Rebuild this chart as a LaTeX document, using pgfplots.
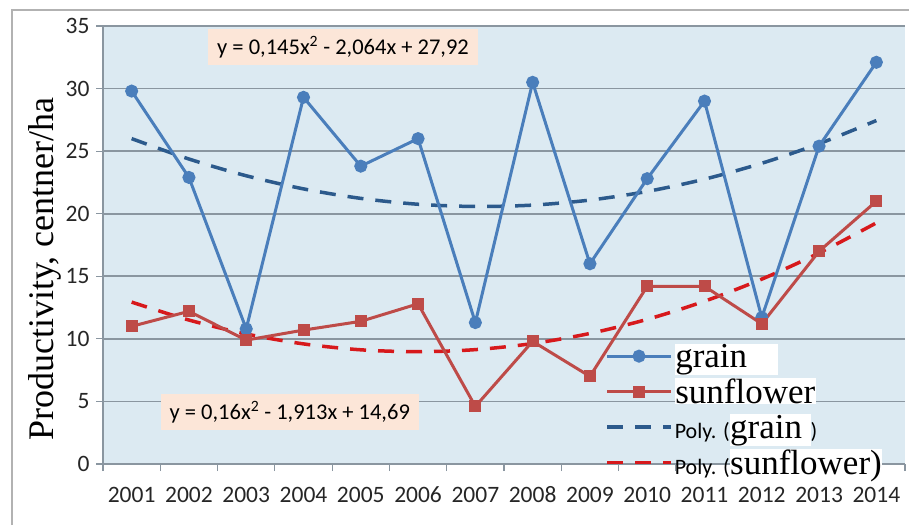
\documentclass[border=0pt]{standalone}
\usepackage{fontspec}
\setmainfont{Liberation Serif}
\newfontfamily\carlito{Carlito}
\usepackage{pgfplots}
\pgfplotsset{compat=1.18}
\definecolor{bgblue}{HTML}{DCEAF2}
\definecolor{gridgray}{HTML}{8A96A0}
\definecolor{grainc}{HTML}{4A7EBB}
\definecolor{sunc}{HTML}{BE4B48}
\definecolor{graintr}{HTML}{2C5A8C}
\definecolor{suntr}{HTML}{D7191C}
\definecolor{eqbg}{HTML}{FCE6D8}
\setlength{\fboxsep}{0.5pt}
\newcommand{\polyf}{\carlito\fontsize{22}{22}\selectfont}
\begin{document}
\begin{tikzpicture}
\useasboundingbox (-103pt,-61pt) rectangle (806pt,464pt);
\draw[gray!60, line width=1.2pt] (-91pt,-61pt) -- (-91pt,454pt) -- (806pt,454pt);
\begin{axis}[
  width=802pt, height=438pt, scale only axis,
  xmin=0.5, xmax=14.5, ymin=0, ymax=35,
  axis background/.style={fill=bgblue},
  axis x line*=bottom, axis y line*=left,
  axis line style={gridgray, line width=1.6pt, -},
  ymajorgrids, major grid style={gridgray, line width=1.6pt},
  ytick={0,5,...,35},
  xtick={1,...,14},
  xticklabels={2001,2002,2003,2004,2005,2006,2007,2008,2009,2010,2011,2012,2013,2014},
  minor xtick={0.5,1.5,...,14.5},
  tick align=outside,
  major x tick style={draw=none},
  minor x tick style={gridgray, line width=1.2pt},
  minor tick length=7pt,
  major tick length=7pt,
  ytick style={gridgray, line width=1.2pt},
  /pgf/number format/assume math mode=true,
  ticklabel style={font=\carlito\fontsize{23.5}{23.5}\selectfont, text=black!85},
  xticklabel style={text height=16pt, text depth=0pt, yshift=-12pt},
  yticklabel style={xshift=-3pt},
  ylabel={Productivity, centner/ha},
  ylabel style={font=\fontsize{36}{36}\selectfont, at={(ticklabel cs:0.445)}, yshift=-2pt},
  legend cell align=left,
  legend style={at={(0.626,0.28)}, anchor=north west, draw=none, fill=none,
    font=\fontsize{35}{35}\selectfont, row sep=5.5pt, inner sep=0pt,
    nodes={inner sep=2pt}},
  legend image code/.code={\draw[mark repeat=2,mark phase=2,#1] plot coordinates {(0pt,0pt) (32pt,0pt) (64pt,0pt)};},
  clip=false,
]
\addlegendimage{grainc, line width=3pt, mark=*, mark size=5pt, mark options={solid, fill=grainc}}
\addlegendentry{\colorbox{white}{grain\hspace{30pt}}}
\addlegendimage{sunc, line width=3pt, mark=square*, mark size=4.5pt, mark options={solid, fill=sunc}}
\addlegendentry{\colorbox{white}{sunflower}}
\addlegendimage{graintr, line width=3.5pt, dash pattern=on 16pt off 12pt}
\addlegendentry{{\polyf Poly. (}\colorbox{white}{grain\hspace{8pt}}{\polyf )}}
\addlegendimage{suntr, line width=3.5pt, dash pattern=on 16pt off 12pt}
\addlegendentry{{\polyf Poly. (}\colorbox{white}{sunflower)}}

% trend lines
\addplot[graintr, line width=3.5pt, dash pattern=on 16pt off 12pt, smooth, forget plot] coordinates {
(1,26.001) (2,24.372) (3,23.033) (4,21.984) (5,21.225) (6,20.756) (7,20.577)
(8,20.688) (9,21.089) (10,21.780) (11,22.761) (12,24.032) (13,25.593) (14,27.444)};
\addplot[suntr, line width=3.5pt, dash pattern=on 16pt off 12pt, smooth, forget plot] coordinates {
(1,12.937) (2,11.504) (3,10.391) (4,9.598) (5,9.125) (6,8.972) (7,9.139)
(8,9.626) (9,10.433) (10,11.560) (11,13.007) (12,14.774) (13,16.861) (14,19.268)};

% data
\addplot[grainc, line width=3pt, mark=*, mark size=5pt, mark options={fill=grainc}, forget plot] coordinates {
(1,29.8) (2,22.9) (3,10.8) (4,29.3) (5,23.8) (6,26.0) (7,11.3)
(8,30.5) (9,16.0) (10,22.8) (11,29.0) (12,11.7) (13,25.4) (14,32.1)};
\addplot[sunc, line width=3pt, mark=square*, mark size=4.5pt, mark options={fill=sunc}, forget plot] coordinates {
(1,11.0) (2,12.2) (3,9.9) (4,10.7) (5,11.4) (6,12.8) (7,4.6)
(8,9.8) (9,7.0) (10,14.2) (11,14.2) (12,11.2) (13,17.0) (14,21.0)};

\node[fill=eqbg, font=\carlito\fontsize{22.5}{22.5}\selectfont, inner xsep=9pt, inner ysep=7pt] at (axis cs:4.69,33.32) {y = 0,145x\textsuperscript{2} - 2,064x + 27,92};
\node[fill=eqbg, font=\carlito\fontsize{22.5}{22.5}\selectfont, inner xsep=9pt, inner ysep=7pt] at (axis cs:3.76,4.16) {y = 0,16x\textsuperscript{2} - 1,913x + 14,69};
\end{axis}
\end{tikzpicture}
\end{document}
